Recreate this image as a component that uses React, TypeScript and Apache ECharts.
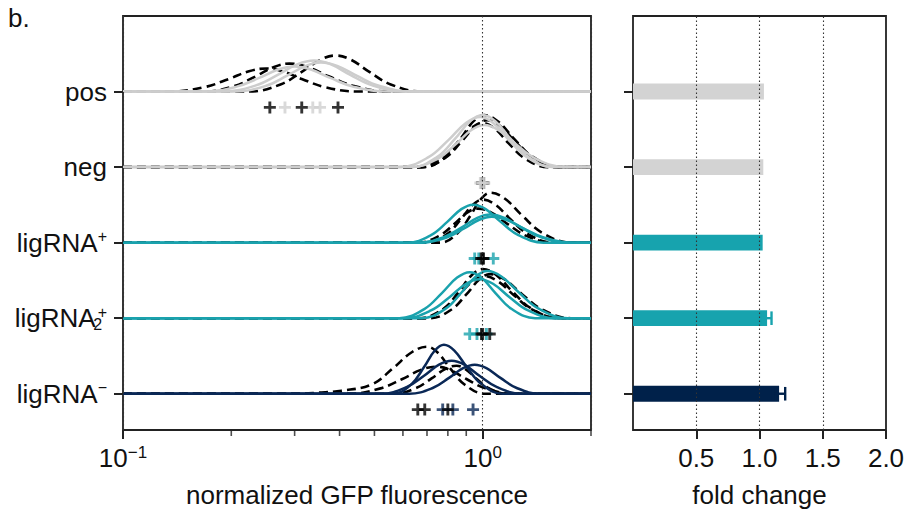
import React, { useEffect, useRef } from 'react';
import * as echarts from 'echarts';

// ---------- data ----------
// rows: 0 = ligRNA−, 1 = ligRNA2+, 2 = ligRNA+, 3 = neg, 4 = pos
const rowValues = [0, 1, 2, 3, 4];
const rowLabels = ['ligRNA{sp|−}', 'ligRNA{sb|2}{sp|+}', 'ligRNA{sp|+}', 'neg', 'pos'];

// density curves: [fluorescence, height (in row spacings)]
const posDashed: number[][][] = [
  [[0.1,0],[0.136,0],[0.169,0.06],[0.197,0.167],[0.224,0.269],[0.25,0.305],[0.277,0.269],[0.314,0.167],[0.363,0.06],[0.447,0],[2,0]],
  [[0.1,0],[0.168,0],[0.204,0.073],[0.234,0.202],[0.263,0.326],[0.29,0.37],[0.325,0.326],[0.373,0.202],[0.439,0.073],[0.552,0],[2,0]],
  [[0.1,0],[0.225,0],[0.274,0.094],[0.314,0.26],[0.354,0.421],[0.39,0.477],[0.43,0.421],[0.484,0.26],[0.555,0.094],[0.675,0],[2,0]],
];
const posSolid: number[][][] = [
  [[0.1,0],[0.168,0],[0.207,0.065],[0.239,0.18],[0.27,0.291],[0.30,0.33],[0.333,0.291],[0.377,0.18],[0.436,0.065],[0.536,0],[2,0]],
  [[0.1,0],[0.19,0],[0.234,0.081],[0.27,0.224],[0.306,0.362],[0.34,0.41],[0.377,0.362],[0.427,0.224],[0.493,0.081],[0.607,0],[2,0]],
  [[0.1,0],[0.205,0],[0.25,0.076],[0.286,0.21],[0.322,0.34],[0.355,0.385],[0.394,0.34],[0.446,0.21],[0.515,0.076],[0.634,0],[2,0]],
];
const negDashed: number[][][] = [
  [[0.1,0],[0.686,0],[0.788,0.136],[0.868,0.376],[0.943,0.608],[1.01,0.689],[1.101,0.608],[1.221,0.376],[1.378,0.136],[1.638,0],[2,0]],
  [[0.1,0],[0.658,0],[0.764,0.115],[0.848,0.318],[0.928,0.514],[1.0,0.583],[1.078,0.514],[1.179,0.318],[1.309,0.115],[1.521,0],[2,0]],
  [[0.1,0],[0.677,0],[0.787,0.123],[0.873,0.339],[0.956,0.547],[1.03,0.62],[1.116,0.547],[1.23,0.339],[1.377,0.123],[1.618,0],[2,0]],
];
const negSolid: number[][][] = [
  [[0.1,0],[0.588,0],[0.707,0.131],[0.804,0.361],[0.898,0.584],[0.985,0.662],[1.07,0.584],[1.182,0.361],[1.327,0.131],[1.567,0],[2,0]],
  [[0.1,0],[0.637,0],[0.748,0.136],[0.838,0.376],[0.923,0.608],[1.0,0.689],[1.084,0.608],[1.194,0.376],[1.337,0.136],[1.57,0],[2,0]],
  [[0.1,0],[0.635,0],[0.749,0.11],[0.842,0.304],[0.93,0.49],[1.01,0.556],[1.107,0.49],[1.237,0.304],[1.407,0.11],[1.692,0],[2,0]],
];
const ligPlusDashed: number[][][] = [
  [[0.1,0],[0.761,0],[0.853,0.131],[0.925,0.361],[0.991,0.584],[1.05,0.662],[1.151,0.584],[1.286,0.361],[1.463,0.131],[1.759,0],[2,0]],
  [[0.1,0],[0.702,0],[0.796,0.113],[0.87,0.311],[0.939,0.503],[1.0,0.57],[1.084,0.503],[1.194,0.311],[1.337,0.113],[1.57,0],[2,0]],
  [[0.1,0],[0.659,0],[0.756,0.089],[0.833,0.246],[0.905,0.397],[0.97,0.45],[1.057,0.397],[1.173,0.246],[1.324,0.089],[1.573,0],[2,0]],
];
const ligPlusSolid: number[][][] = [
  [[0.1,0],[0.618,0],[0.718,0.1],[0.797,0.275],[0.872,0.444],[0.94,0.503],[1.019,0.444],[1.122,0.275],[1.256,0.1],[1.476,0],[2,0]],
  [[0.1,0],[0.66,0],[0.779,0.073],[0.875,0.203],[0.966,0.327],[1.05,0.371],[1.149,0.327],[1.279,0.203],[1.451,0.073],[1.736,0],[2,0]],
  [[0.1,0],[0.675,0],[0.793,0.068],[0.888,0.188],[0.978,0.303],[1.06,0.344],[1.162,0.303],[1.298,0.188],[1.477,0.068],[1.775,0],[2,0]],
];
const lig2Dashed: number[][][] = [
  [[0.1,0],[0.679,0],[0.78,0.128],[0.859,0.354],[0.933,0.572],[1.0,0.649],[1.09,0.572],[1.209,0.354],[1.365,0.128],[1.622,0],[2,0]],
  [[0.1,0],[0.713,0],[0.819,0.115],[0.902,0.318],[0.98,0.514],[1.05,0.583],[1.151,0.514],[1.286,0.318],[1.463,0.115],[1.759,0],[2,0]],
  [[0.1,0],[0.664,0],[0.771,0.11],[0.857,0.304],[0.937,0.49],[1.01,0.556],[1.101,0.49],[1.221,0.304],[1.378,0.11],[1.638,0],[2,0]],
];
const lig2Solid: number[][][] = [
  [[0.1,0],[0.586,0],[0.688,0.121],[0.77,0.333],[0.849,0.537],[0.92,0.609],[0.992,0.537],[1.085,0.333],[1.204,0.121],[1.399,0],[2,0]],
  [[0.1,0],[0.677,0],[0.787,0.123],[0.873,0.34],[0.956,0.549],[1.03,0.623],[1.129,0.549],[1.261,0.34],[1.435,0.123],[1.725,0],[2,0]],
  [[0.1,0],[0.604,0],[0.718,0.102],[0.81,0.282],[0.899,0.456],[0.98,0.517],[1.068,0.456],[1.185,0.282],[1.337,0.102],[1.589,0],[2,0]],
];
const ligMinusDashed: number[][][] = [
  [[0.1,0],[0.3,0],[0.35,0.015],[0.405,0.04],[0.492,0.123],[0.564,0.34],[0.635,0.549],[0.70,0.623],[0.748,0.549],[0.811,0.34],[0.89,0.123],[1.017,0],[2,0]],
  [[0.1,0],[0.427,0],[0.52,0.071],[0.598,0.195],[0.673,0.316],[0.743,0.358],[0.811,0.316],[0.901,0.195],[1.018,0.071],[1.213,0],[2,0]],
  [[0.1,0],[0.563,0],[0.651,0.073],[0.721,0.203],[0.786,0.327],[0.845,0.371],[0.895,0.327],[0.959,0.203],[1.04,0.073],[1.167,0],[2,0]],
];
const ligMinusSolid: number[][][] = [
  [[0.1,0],[0.565,0],[0.634,0.128],[0.687,0.354],[0.736,0.572],[0.78,0.649],[0.834,0.572],[0.903,0.354],[0.992,0.128],[1.134,0],[2,0]],
  [[0.1,0],[0.522,0],[0.614,0.087],[0.687,0.239],[0.756,0.385],[0.82,0.437],[0.889,0.385],[0.979,0.239],[1.096,0.087],[1.288,0],[2,0]],
  [[0.1,0],[0.625,0],[0.726,0.076],[0.806,0.21],[0.882,0.339],[0.95,0.384],[1.024,0.339],[1.12,0.21],[1.243,0.076],[1.444,0],[2,0]],
];

// medians shown as "+" markers below each baseline
const ctrlMedians = [[0.66, 0.69, 0.80], [0.992, 1.0, 1.046], [0.99, 1.0, 1.005], [0.995, 1.0, 1.005], [0.256, 0.314, 0.396]];
const sampleMedians = [[0.774, 0.826, 0.94], [0.92, 0.964, 1.024], [0.95, 0.975, 1.07], [0.985, 1.0, 1.01], [0.282, 0.337, 0.353]];

// right panel: fold change per row
const foldChange = [1.155, 1.06, 1.025, 1.03, 1.035];
const foldErr = [0.048, 0.035, 0, 0, 0];

const minorTickValues = [0.2, 0.3, 0.4, 0.5, 0.6, 0.7, 0.8, 0.9, 2];
const foldTickValues = [0.5, 1.0, 1.5, 2.0];
const foldGridValues = [0.5, 1.0, 1.5];

// ---------- styles ----------
const FONT = '"Liberation Sans", Arial, Helvetica, sans-serif';
const TXT = '#111';
const FS = 26;
const lineColors = ['#0a2856', '#1aa2ad', '#1aa2ad', '#cdcdcd', '#cdcdcd'];
const markerColors = ['#0a2856', '#1aa2ad', '#1aa2ad', '#d0d0d0', '#d0d0d0'];
const barColors = ['#00214a', '#17a3ae', '#17a3ae', '#d3d3d3', '#d3d3d3'];
const markerCtrlFirst = [false, false, false, true, false];
const Y_MIN = -0.48;
const Y_MAX = 5.0;
const MARKER_DROP = 0.21;
const BAR_THICK = 0.21;
const CAP = 0.18;
const PLUS = 'path://M3.8,0H6.2V3.8H10V6.2H6.2V10H3.8V6.2H0V3.8H3.8Z';

const rowsDashed = [ligMinusDashed, lig2Dashed, ligPlusDashed, negDashed, posDashed];
const rowsSolid = [ligMinusSolid, lig2Solid, ligPlusSolid, negSolid, posSolid];

function buildOption(): any {
  const series: any[] = [];
  rowValues.forEach((r) => {
    rowsDashed[r].forEach((curve) => {
      series.push({
        type: 'line', xAxisIndex: 0, yAxisIndex: 0, symbol: 'none', smooth: 0.4,
        data: curve.map(([x, h]) => [x, r + h]),
        lineStyle: { color: '#000', width: 2.6, type: [9, 5] }, z: 2, silent: true,
      });
    });
    rowsSolid[r].forEach((curve) => {
      series.push({
        type: 'line', xAxisIndex: 0, yAxisIndex: 0, symbol: 'none', smooth: 0.4,
        data: curve.map(([x, h]) => [x, r + h]),
        lineStyle: { color: lineColors[r], width: 2.5 }, z: 3, silent: true,
      });
    });
  });

  const markerData: any[] = [];
  rowValues.forEach((r) => {
    const ctrl = ctrlMedians[r].map((m) => ({ value: [m, r - MARKER_DROP], itemStyle: { color: '#000' } }));
    const samp = sampleMedians[r].map((m) => ({ value: [m, r - MARKER_DROP], itemStyle: { color: markerColors[r] } }));
    if (markerCtrlFirst[r]) markerData.push(...ctrl, ...samp);
    else markerData.push(...samp, ...ctrl);
  });
  series.push({
    type: 'scatter', xAxisIndex: 0, yAxisIndex: 0, symbol: PLUS, symbolSize: 12,
    data: markerData, z: 5, silent: true,
  });

  series.push({
    type: 'scatter', xAxisIndex: 0, yAxisIndex: 0, symbol: 'rect', symbolSize: [1.6, 5],
    symbolOffset: [0, 3.5], clip: false, silent: true, z: 11,
    itemStyle: { color: '#222' },
    data: minorTickValues.map((v) => [v, Y_MIN]),
  });

  series.push({
    type: 'custom', xAxisIndex: 1, yAxisIndex: 1, coordinateSystem: 'cartesian2d', silent: true, z: 3,
    data: rowValues.map((r) => [r, foldChange[r], foldErr[r]]),
    encode: { x: 1, y: 0 },
    renderItem: (params: any, api: any) => {
      const r = api.value(0);
      const v = api.value(1);
      const e = api.value(2);
      const p0 = api.coord([0, r]);
      const p1 = api.coord([v, r]);
      const h = api.size([0, BAR_THICK])[1];
      const cap = api.size([0, CAP])[1];
      const col = barColors[params.dataIndex];
      const children: any[] = [
        { type: 'rect', shape: { x: p0[0], y: p1[1] - h / 2, width: p1[0] - p0[0], height: h }, style: { fill: col } },
      ];
      if (e > 0) {
        const a = api.coord([v - e, r]);
        const b = api.coord([v + e, r]);
        const st = { stroke: col, lineWidth: 2.4 };
        children.push({ type: 'line', shape: { x1: a[0], y1: a[1], x2: b[0], y2: b[1] }, style: st });
        children.push({ type: 'line', shape: { x1: a[0], y1: a[1] - cap / 2, x2: a[0], y2: a[1] + cap / 2 }, style: st });
        children.push({ type: 'line', shape: { x1: b[0], y1: b[1] - cap / 2, x2: b[0], y2: b[1] + cap / 2 }, style: st });
      }
      return { type: 'group', children };
    },
  });

  // dotted reference lines of the right panel, drawn above the bars
  series.push({
    type: 'line', xAxisIndex: 1, yAxisIndex: 1, data: [], silent: true, z: 9,
    markLine: {
      silent: true, symbol: 'none', label: { show: false },
      lineStyle: { type: [1.5, 2.5], color: '#333', width: 1.1 },
      data: foldGridValues.map((v) => ({ xAxis: v })),
    },
  });

  const tickStyle = { show: true, length: 9, lineStyle: { color: '#222', width: 2 } };
  const labelBase = { color: TXT, fontFamily: FONT, fontSize: FS };
  const noLine = { show: false, onZero: false };

  return {
    animation: false,
    backgroundColor: '#fff',
    textStyle: { fontFamily: FONT },
    graphic: [
      { type: 'text', left: 8, top: 5, style: { text: 'b.', fontSize: FS, fontFamily: FONT, fill: TXT } },
    ],
    grid: [
      { left: 123, top: 16, width: 468, height: 414, show: true, borderColor: '#222', borderWidth: 1.8, backgroundColor: 'transparent', outerBoundsMode: 'none', containLabel: false },
      { left: 633, top: 16, width: 253, height: 414, show: true, borderColor: '#222', borderWidth: 1.8, backgroundColor: 'transparent', outerBoundsMode: 'none', containLabel: false },
    ],
    xAxis: [
      {
        type: 'log', logBase: 10, gridIndex: 0, min: 0.1, max: 2, z: 10, position: 'bottom',
        axisLine: noLine, axisTick: tickStyle, minorTick: { show: false },
        splitLine: { show: true, lineStyle: { type: [1.5, 2.5], color: '#333', width: 1.1 } },
        axisLabel: {
          ...labelBase, margin: 14, lineHeight: 28, showMaxLabel: false,
          formatter: (v: number) => {
            const l = Math.log10(v);
            const e = Math.round(l);
            if (Math.abs(l - e) > 1e-6) return '';
            return '10{e|' + (e < 0 ? '−' : '') + Math.abs(e) + '}';
          },
          rich: { e: { fontSize: 17, lineHeight: 15, verticalAlign: 'top', color: TXT, fontFamily: FONT } },
        },
        name: 'normalized GFP fluorescence', nameLocation: 'middle', nameGap: 52,
        nameTextStyle: { ...labelBase },
      },
      {
        type: 'value', gridIndex: 1, min: 0, max: 2, interval: 0.5, z: 10, position: 'bottom',
        axisLine: noLine,
        axisTick: { ...tickStyle, customValues: foldTickValues },
        splitLine: { show: false },
        axisLabel: { ...labelBase, margin: 15, customValues: foldTickValues, formatter: (v: number) => v.toFixed(1) },
        name: 'fold change', nameLocation: 'middle', nameGap: 52,
        nameTextStyle: { ...labelBase },
      },
    ],
    yAxis: [
      {
        type: 'value', gridIndex: 0, min: Y_MIN, max: Y_MAX, position: 'left',
        axisLine: noLine, splitLine: { show: false },
        axisTick: { ...tickStyle, customValues: rowValues },
        axisLabel: {
          ...labelBase, margin: 16, lineHeight: 28, customValues: rowValues,
          formatter: (v: number) => rowLabels[Math.round(v)],
          rich: {
            sp: { fontSize: 16, lineHeight: 14, verticalAlign: 'top', color: TXT, fontFamily: FONT },
            sb: { fontSize: 16, lineHeight: 14, verticalAlign: 'bottom', align: 'left', width: 0.1, padding: [0, 0, 0, 2], color: TXT, fontFamily: FONT },
          },
        },
      },
      {
        type: 'value', gridIndex: 1, min: Y_MIN, max: Y_MAX, position: 'left',
        axisLine: noLine, splitLine: { show: false },
        axisTick: { ...tickStyle, customValues: rowValues },
        axisLabel: { show: false },
      },
    ],
    series,
  };
}

export default function App() {
  const ref = useRef<HTMLDivElement>(null);
  useEffect(() => {
    const chart = echarts.init(ref.current!, null, { renderer: 'svg' });
    chart.setOption(buildOption());
    return () => chart.dispose();
  }, []);
  return <div ref={ref} style={{ position: 'fixed', left: 0, top: 0, width: 907, height: 519, background: '#fff' }} />;
}
